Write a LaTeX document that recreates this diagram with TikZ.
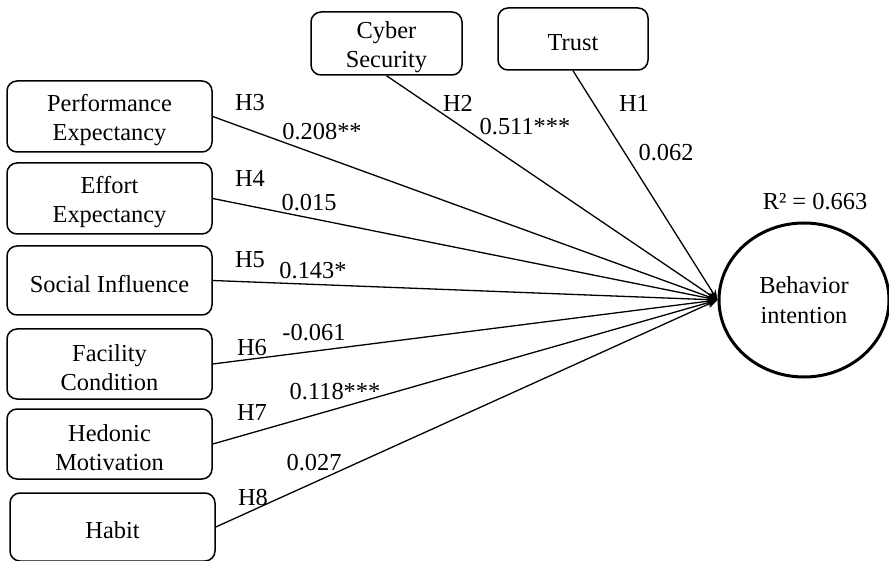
\documentclass[tikz,border=0pt]{standalone}
\usepackage{fontspec}
\setmainfont{Liberation Serif}
\usetikzlibrary{shapes.geometric,arrows.meta}

% invisible strut that sets the text a little low inside its box
\newcommand{\capstrut}{\rule{0pt}{12pt}}

\tikzset{
  construct/.style={draw, line width=0.75pt, rounded corners=5pt, align=center,
    inner sep=1pt, font=\fontsize{12.2}{14.7}\selectfont},
  latent/.style={draw, ellipse, line width=1.5pt, align=center, inner sep=0pt,
    minimum width=85pt, minimum height=77pt, font=\fontsize{12.2}{14.7}\selectfont},
  path/.style={line width=0.65pt, -{Stealth[length=5pt,width=4pt]}},
  coef/.style={inner sep=0pt, font=\fontsize{12.2}{14.7}\selectfont},
}

\begin{document}
\begin{tikzpicture}[x=0.5pt, y=-0.5pt]
\useasboundingbox (0,0) rectangle (889,561);

% exogenous constructs on the left
\node[construct, minimum width=102.5pt, minimum height=35.5pt] (PE) at (109.5,116.5) {\capstrut Performance\\Expectancy};
\node[construct, minimum width=102.5pt, minimum height=35.5pt] (EE) at (109.5,198.5) {\capstrut Effort\\Expectancy};
\node[construct, minimum width=102.5pt, minimum height=34.5pt] (SI) at (109.5,280.5) {\capstrut Social Influence};
\node[construct, minimum width=102.5pt, minimum height=35pt] (FC) at (109.5,364) {\capstrut Facility\\Condition};
\node[construct, minimum width=102.5pt, minimum height=35pt] (HM) at (109.5,444) {\capstrut Hedonic\\Motivation};
\node[construct, minimum width=102.5pt, minimum height=34pt] (HB) at (112.5,527) {\capstrut Habit};

% constructs at the top
\node[construct, minimum width=75.5pt, minimum height=31.5pt] (CS) at (386.5,43.5) {\capstrut Cyber\\Security};
\node[construct, minimum width=75pt, minimum height=31pt] (TR) at (573,39) {\capstrut Trust};

% endogenous construct
\node[latent] (BI) at (804,300) {Behavior\\intention};
\node[coef] (R2) at (815,202) {R² = 0.663};

% structural paths
\draw[path] (TR.south) -- (BI.west);
\draw[path] (CS.south) -- (BI.west);
\draw[path] (PE.east) -- (BI.west);
\draw[path] (EE.east) -- (BI.west);
\draw[path] (SI.east) -- (BI.west);
\draw[path] (FC.east) -- (BI.west);
\draw[path] (HM.east) -- (BI.west);
\draw[path] (HB.east) -- (BI.west);

% hypothesis labels and path coefficients
\node[coef] (h1) at (634,103) {H1};
\node[coef] (c1) at (666,153) {0.062};
\node[coef] (h2) at (458,103) {H2};
\node[coef] (c2) at (525,127) {0.511***};
\node[coef] (h3) at (250,103) {H3};
\node[coef] (c3) at (322,132) {0.208**};
\node[coef] (h4) at (250,178) {H4};
\node[coef] (c4) at (309,203) {0.015};
\node[coef] (h5) at (250,260) {H5};
\node[coef] (c5) at (313,271) {0.143*};
\node[coef] (h6) at (252,348) {H6};
\node[coef] (c6) at (314,333) {-0.061};
\node[coef] (h7) at (252,413) {H7};
\node[coef] (c7) at (335,392) {0.118***};
\node[coef] (h8) at (253,498) {H8};
\node[coef] (c8) at (314,463) {0.027};
\end{tikzpicture}
\end{document}
